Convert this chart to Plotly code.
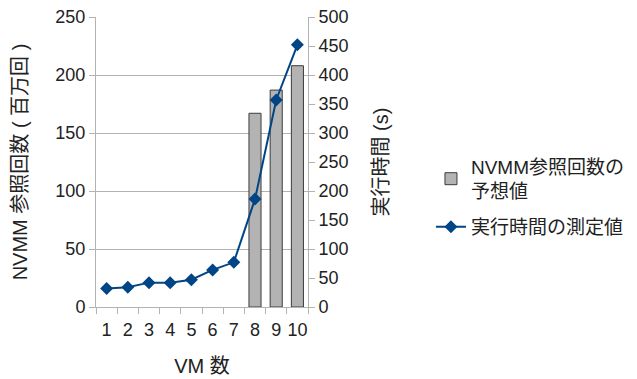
import plotly.graph_objects as go

vm = [1, 2, 3, 4, 5, 6, 7, 8, 9, 10]
bar_x = [8, 9, 10]
nvmm_refs = [167, 187, 208]
exec_time = [32, 34, 42, 42, 47, 64, 77, 186, 357, 452]

FONT = "Liberation Sans, Noto Sans CJK JP, sans-serif"

fig = go.Figure()
fig.add_trace(go.Bar(
    x=bar_x, y=nvmm_refs, name="NVMM参照回数の<br>予想値",
    marker=dict(color="#b3b3b3", line=dict(color="#3c3c3c", width=1)),
    yaxis="y", legendgroup="a",
))
fig.add_trace(go.Scatter(
    x=vm, y=exec_time, name="実行時間の測定値", mode="lines+markers",
    line=dict(color="#004586", width=2),
    marker=dict(symbol="diamond", size=10, color="#004586"),
    yaxis="y2", legendgroup="b",
))

fig.update_layout(
    width=629, height=371,
    margin=dict(l=88, r=329, t=9, b=72, autoexpand=False),
    paper_bgcolor="white", plot_bgcolor="white",
    font=dict(family=FONT, size=18, color="#222"),
    bargap=0.43,
    showlegend=True,
    legend=dict(x=1.58, y=0.55, xanchor="left", yanchor="top",
                font=dict(size=19, family=FONT), traceorder="grouped",
                tracegroupgap=8, itemwidth=30),
    xaxis=dict(
        range=[0.5, 10.5], tickvals=vm, ticktext=[str(v) for v in vm],
        ticks="", showgrid=False, showline=True, linecolor="#b3b3b3",
        minor=dict(tickvals=[v + 0.5 for v in range(0, 11)], ticks="outside",
                   ticklen=6, tickcolor="#b3b3b3"),
        title=dict(text="VM 数", standoff=20, font=dict(size=20)),
        ticklabelstandoff=6, ticklabeloverflow="allow",
        zeroline=False, automargin=False,
    ),
    yaxis=dict(
        range=[0, 250], dtick=50, showgrid=True, gridcolor="#b3b3b3",
        showline=True, linecolor="#b3b3b3", ticks="outside", ticklen=6,
        tickcolor="#b3b3b3", zeroline=False, automargin=False,
        ticklabeloverflow="allow",
        title=dict(text="NVMM 参照回数 ( 百万回 )", standoff=22, font=dict(size=20)),
    ),
    yaxis2=dict(
        range=[0, 500], dtick=50, overlaying="y", side="right",
        showgrid=False, showline=True, linecolor="#b3b3b3", ticks="outside",
        ticklen=6, tickcolor="#b3b3b3", zeroline=False, automargin=False,
        ticklabeloverflow="allow",
        title=dict(text="実行時間 (s)", standoff=26, font=dict(size=20)),
    ),
)

fig.write_html("out.html")
